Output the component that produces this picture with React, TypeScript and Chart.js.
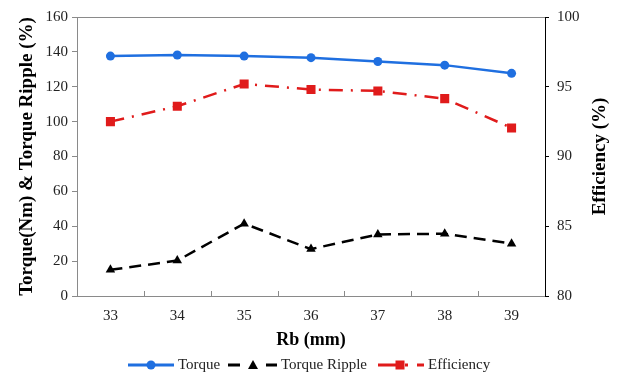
import React, { useEffect, useRef } from 'react';
import { Chart, registerables } from 'chart.js';

Chart.register(...registerables);

const categories = ['33', '34', '35', '36', '37', '38', '39'];
const torque = [137.6, 138.2, 137.6, 136.7, 134.5, 132.4, 127.7];
const torqueRipple = [15.0, 20.3, 41.5, 26.9, 35.3, 35.7, 30.0];
const efficiency = [92.5, 93.6, 95.2, 94.8, 94.7, 94.15, 92.05];

const seriesNames = ['Torque', 'Torque Ripple', 'Efficiency'];
const leftTitle = 'Torque(Nm) & Torque Ripple (%)';
const rightTitle = 'Efficiency (%)';
const xTitle = 'Rb (mm)';

const FONT = "'Liberation Serif', 'Times New Roman', serif";
const BLUE = '#1f6fe0';
const RED = '#e01b1b';
const GREY = '#8a8a8a';

function drawMarker(ctx: CanvasRenderingContext2D, style: string, x: number, y: number, r: number, color: string) {
  ctx.save();
  ctx.fillStyle = color;
  ctx.setLineDash([]);
  ctx.beginPath();
  if (style === 'circle') {
    ctx.arc(x, y, r, 0, Math.PI * 2);
  } else if (style === 'triangle') {
    ctx.moveTo(x, y - r);
    ctx.lineTo(x + r, y + r * 0.8);
    ctx.lineTo(x - r, y + r * 0.8);
    ctx.closePath();
  } else {
    ctx.rect(x - r, y - r, 2 * r, 2 * r);
  }
  ctx.fill();
  ctx.restore();
}

const extrasPlugin = {
  id: 'extras',
  afterDraw(chart: any) {
    const ctx: CanvasRenderingContext2D = chart.ctx;
    const area = chart.chartArea;
    const xs = chart.scales.x;
    ctx.save();
    // top border
    ctx.strokeStyle = GREY;
    ctx.lineWidth = 1;
    ctx.beginPath();
    ctx.moveTo(area.left, area.top + 0.5);
    ctx.lineTo(area.right, area.top + 0.5);
    ctx.stroke();
    // inward x tick marks at category boundaries
    const n = categories.length;
    const step = (area.right - area.left) / n;
    ctx.beginPath();
    for (let i = 1; i < n; i++) {
      const px = Math.round(xs.left + step * i) + 0.5;
      ctx.moveTo(px, area.bottom);
      ctx.lineTo(px, area.bottom - 5);
    }
    ctx.stroke();

    // right axis title (rotated -90)
    ctx.fillStyle = '#000';
    ctx.font = `bold 19px ${FONT}`;
    ctx.textAlign = 'center';
    ctx.textBaseline = 'middle';
    ctx.translate(600, (area.top + area.bottom) / 2);
    ctx.rotate(-Math.PI / 2);
    ctx.fillText(rightTitle, 0, 0);
    ctx.restore();

    // legend
    const items = [
      { segs: [[128, 174]], mx: 151, color: BLUE, marker: 'circle', r: 4.5, tx: 178 },
      { segs: [[228, 240], [266, 277]], mx: 253, color: '#000', marker: 'triangle', r: 5, tx: 281 },
      { segs: [[378, 397], [405, 408], [417, 424]], mx: 400, color: RED, marker: 'rect', r: 4.5, tx: 428 },
    ];
    const y = 365;
    ctx.save();
    items.forEach((it, i) => {
      ctx.strokeStyle = it.color;
      ctx.lineWidth = 3;
      ctx.beginPath();
      it.segs.forEach(([a, b]) => {
        ctx.moveTo(a, y);
        ctx.lineTo(b, y);
      });
      ctx.stroke();
      drawMarker(ctx, it.marker, it.mx, y, it.r, it.color);
      ctx.fillStyle = '#222';
      ctx.font = `15px ${FONT}`;
      ctx.textAlign = 'left';
      ctx.textBaseline = 'middle';
      ctx.fillText(seriesNames[i], it.tx, y);
    });
    ctx.restore();
  },
};

export default function App() {
  const ref = useRef<HTMLCanvasElement>(null);
  useEffect(() => {
    document.body.style.margin = '0';
    const chart = new Chart(ref.current as HTMLCanvasElement, {
      type: 'line',
      data: {
        labels: categories,
        datasets: [
          {
            label: seriesNames[0],
            data: torque,
            yAxisID: 'y',
            borderColor: BLUE,
            backgroundColor: BLUE,
            borderWidth: 2.5,
            pointStyle: 'circle',
            pointRadius: 4.5,
            pointBorderWidth: 0,
            tension: 0,
          },
          {
            label: seriesNames[1],
            data: torqueRipple,
            yAxisID: 'y',
            borderColor: '#000',
            backgroundColor: '#000',
            borderWidth: 2.5,
            borderDash: [12, 7],
            pointStyle: 'triangle',
            pointRadius: 5.5,
            pointBorderWidth: 0,
            tension: 0,
          },
          {
            label: seriesNames[2],
            data: efficiency,
            yAxisID: 'y1',
            borderColor: RED,
            backgroundColor: RED,
            borderWidth: 2.5,
            borderDash: [14, 8, 2, 8],
            pointStyle: 'rect',
            pointRadius: 6.4,
            pointBorderWidth: 0,
            tension: 0,
          },
        ],
      },
      options: {
        animation: false,
        responsive: true,
        maintainAspectRatio: false,
        layout: { padding: { top: 12, left: 0, right: 0, bottom: 0 } },
        plugins: { legend: { display: false }, tooltip: { enabled: false } },
        scales: {
          x: {
            type: 'category',
            offset: true,
            grid: { display: false, drawTicks: false },
            border: { display: true, color: GREY, width: 1 },
            ticks: { color: '#222', font: { family: FONT, size: 15 }, padding: 11 },
            title: {
              display: true,
              text: xTitle,
              color: '#000',
              font: { family: FONT, size: 18, weight: 'bold' },
              padding: { top: 0, bottom: 30 },
            },
            afterFit: (s: any) => {
              s.height = 85;
            },
          },
          y: {
            position: 'left',
            min: 0,
            max: 160,
            ticks: { stepSize: 20, color: '#222', font: { family: FONT, size: 15 }, padding: 4 },
            grid: { display: true, drawOnChartArea: false, drawTicks: true, tickLength: 5, color: GREY },
            border: { display: true, color: GREY, width: 1 },
            title: {
              display: true,
              text: leftTitle,
              color: '#000',
              font: { family: FONT, size: 19, weight: 'bold' },
              padding: { top: 16, bottom: 0 },
            },
            afterFit: (s: any) => {
              s.width = 77;
            },
          },
          y1: {
            position: 'right',
            min: 80,
            max: 100,
            ticks: { stepSize: 5, color: '#222', font: { family: FONT, size: 15 }, padding: 8 },
            grid: { display: true, drawOnChartArea: false, drawTicks: true, tickLength: 4, color: '#000' },
            border: { display: true, color: '#000', width: 1 },
            afterFit: (s: any) => {
              s.width = 83;
            },
          },
        },
      } as any,
      plugins: [extrasPlugin],
    });
    return () => chart.destroy();
  }, []);
  return (
    <div style={{ width: 628, height: 381, position: 'relative' }}>
      <canvas ref={ref} />
    </div>
  );
}
